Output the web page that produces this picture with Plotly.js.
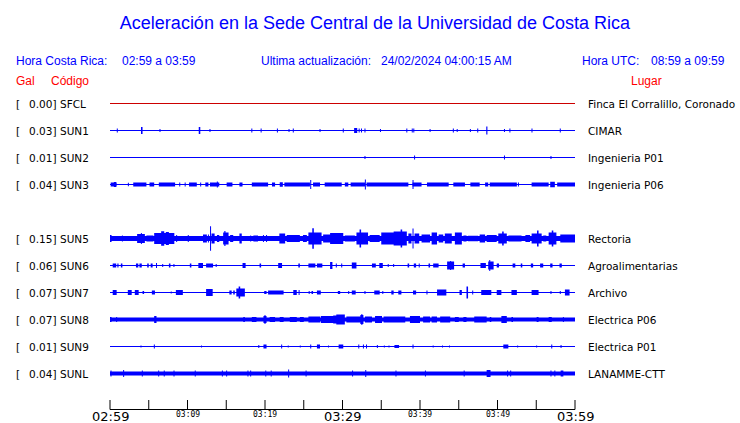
<!DOCTYPE html>
<html><head><meta charset="utf-8">
<script src="https://cdn.plot.ly/plotly-3.0.1.min.js"></script>
<style>html,body{margin:0;padding:0;background:#fff}#chart{width:740px;height:423px}</style>
</head><body><div id="chart"></div>
<script>
// ---- data (times in minutes after 02:59, amplitudes) ----
const codes  = ['SFCL','SUN1','SUN2','SUN3','SUN5','SUN6','SUN7','SUN8','SUN9','SUNL'];
const peakGal = ['0.00','0.03','0.01','0.04','0.15','0.06','0.07','0.07','0.01','0.04'];
const places = ['Finca El Corralillo, Coronado','CIMAR','Ingenieria P01','Ingenieria P06','Rectoria',
                'Agroalimentarias','Archivo','Electrica P06','Electrica P01','LANAMME-CTT'];
const tickTimes  = [0,5,10,15,20,25,30,35,40,45,50,55,60];
const labelTimes = [0,10,20,30,40,50,60];
const labelText  = ['02:59','03:09','03:19','03:29','03:39','03:49','03:59'];

// bursts: [start, end, half-amplitude]
const sfcl = [];
const sun1 = [[0.94,0.94,2],[4.0,4.2,3.5],[6.45,6.45,1.5],[11.45,11.65,3.5],[12.9,12.9,1.5],[18.3,18.3,2],[19.5,19.5,2],
  [21.6,21.6,2],[23.1,23.1,1.5],[23.65,23.65,2],[27.1,27.1,1.5],[30.1,30.1,2],[31.5,31.9,2.5],[32.1,32.2,2],[32.4,32.5,2],
  [32.9,32.9,2],[34.9,34.9,1.5],[38.3,38.3,2],[39.0,39.0,2],[39.2,39.2,2],[41.3,41.3,1.5],[44.3,44.3,2],[44.8,44.8,1.5],
  [46.5,46.5,1.5],[47.45,47.45,2],[48.55,48.7,4],[50.9,50.9,1.5],[51.6,51.6,2],[54.45,54.45,2],[58.1,58.1,2]];
const sun2 = [[32.9,32.9,1.5],[39.3,39.3,2],[50.9,50.9,2],[56.9,56.9,1.5]];
const sun3 = [[0.09,0.86,2],[0.5,0.8,2.6],[2.37,2.37,1.8],[3.0,4.7,2],[5.1,5.7,2],[6.3,8.4,2],[9.0,9.0,2],[9.7,9.7,2],
  [10.2,11.2,2],[11.7,11.7,2],[12.3,12.7,2],[12.9,14.1,2],[13.8,13.9,3],[15.05,15.8,2],[16.7,17.1,2],[18.3,20.4,2],
  [20.9,21.3,2],[21.9,22.3,2.3],[22.5,25.8,2],[25.85,25.95,4.5],[26.2,27.1,2],[27.7,29.9,2],[30.3,30.75,2],
  [31.05,32.9,2.1],[32.9,33.0,5],[33.1,38.5,2],[39.0,40.2,2.1],[39.05,39.15,4.5],[40.9,43.7,2],[44.3,45.8,2],
  [46.5,47.7,2],[48.4,48.8,2],[49.0,52.5,2],[52.7,52.7,2],[54.4,56.6,2],[56.8,57.4,2.8],[57.7,60,2]];
const sun5 = [[0,0.2,3.5],[1.6,1.6,3],[3.5,4.5,4.5],[4.0,4.1,5.5],[4.7,5.6,3],[5.7,8.3,5.5],[6.6,7.0,7.3],[7.2,7.6,6.5],
  [8.6,8.6,3.5],[10.1,10.1,3.5],[12.0,12.5,4],[12.7,12.7,4],[12.95,13.0,12.3],[13.1,13.5,5],[13.8,14.1,3.5],[14.6,15.3,6],
  [14.75,14.9,7.5],[15.5,15.9,3.5],[16.7,17.0,5],[18.15,18.15,3],[18.5,19.1,3],[19.8,19.8,3.5],[20.2,20.2,3.5],[21.85,22.6,5],
  [22.8,24.5,3.5],[24.9,25.4,3.5],[25.6,27.3,6],[26.1,26.3,10.3],[27.5,28.8,4],[28.4,30.1,5.5],[30.3,31.6,3],[31.8,33.3,6],
  [32.2,32.4,9],[33.5,34.8,3.5],[35.0,36.6,6],[36.6,38.3,7],[37.5,37.7,9],[38.5,38.9,5],[39.05,39.15,10],[39.3,39.9,5],
  [40.2,41.3,4],[41.5,42.2,6],[42.4,43.0,4],[43.2,44.1,5],[44.5,45.4,6],[45.6,46.0,3],[46.2,47.5,2.7],[47.7,48.4,4],
  [48.6,49.9,3.5],[50.1,51.2,5],[50.6,50.8,7],[51.4,53.1,3],[53.6,54.2,3.5],[54.4,55.7,5],[55.1,55.3,8],[55.9,56.3,3],
  [56.6,57.6,6],[57.0,57.2,8],[58.1,60,4]];
const sun6 = [[0.35,0.8,2],[0.95,1.1,2],[1.4,1.6,2],[3.35,3.65,2],[3.8,4.1,2],[4.8,5.0,2],[5.25,5.5,2],[6.0,6.0,2.5],
  [6.8,6.8,1.5],[7.6,7.8,2],[8.25,8.25,1.5],[10.3,10.5,2],[11.4,12.0,2.5],[12.4,13.3,2],[13.7,13.7,1.5],[17.1,17.5,2.5],
  [19.3,19.5,2],[21.7,22.2,2.5],[24.3,24.5,2],[25.6,26.5,2],[26.7,27.4,2],[28.4,28.7,3.5],[29.2,29.2,2],[29.9,29.9,2],
  [31.2,31.8,3],[33.8,34.3,2],[34.75,35.2,2.5],[35.9,35.9,1.5],[36.6,36.6,1.5],[38.4,38.6,2],[39.2,39.5,2],[39.9,39.9,2],
  [41.1,41.3,2],[41.7,42.4,2],[43.5,44.4,4],[43.9,44.0,4.5],[45.5,45.8,2],[47.8,48.5,2.5],[48.8,49.5,4],[48.95,49.05,5.5],
  [49.9,50.2,2],[51.95,52.3,2],[53.0,53.2,2],[54.3,54.6,2],[55.5,55.9,2],[56.8,57.1,2],[58.0,58.3,2]];
const sun7 = [[0.35,0.86,2.5],[2.3,2.8,2.5],[3.2,3.7,2.5],[4.2,4.4,1.5],[5.4,5.8,2],[7.9,7.9,1],[8.5,9.4,2.5],[12.4,13.25,3.5],
  [15.4,15.7,2],[15.9,16.1,2],[16.3,17.4,4],[16.6,16.8,6],[19.9,20.2,1.5],[20.4,22.4,2],[23.65,24.1,2.5],[24.4,24.4,2.5],
  [25.7,25.7,1.5],[26.0,26.2,1.5],[26.7,27.2,2],[29.4,29.7,1.5],[30.8,30.8,1.5],[31.2,31.7,2],[32.9,32.9,1.5],[34.1,34.8,2],
  [35.2,35.2,1.5],[36.3,36.6,2],[37.2,37.6,2],[39.1,39.5,2],[40.9,40.9,2],[42.2,43.4,3],[45.1,45.4,2.5],[46.0,46.2,6],
  [46.8,46.8,2],[47.9,49.2,2.5],[49.9,50.5,2.5],[51.8,52.5,2.5],[54.4,55.3,2.5],[56.9,56.9,1.5],[58.1,58.1,1.5],[58.7,59.3,3]];
const sun8 = [[0,0.2,2.5],[0.86,0.86,2.5],[5.7,6.0,3.5],[17.2,17.4,2.5],[18.3,18.9,2.5],[19.8,20.2,3.5],[19.95,20.05,4.5],
  [20.6,21.3,2.5],[21.9,22.4,2.5],[23.2,24.1,2.5],[24.5,25.0,2.5],[25.6,27.1,3],[27.2,28.8,3.5],[28.8,29.7,4],[29.2,30.3,5],
  [30.5,32.3,3],[32.3,32.7,4.5],[32.45,32.55,5.5],[32.9,33.8,3],[34.2,35.1,3.5],[35.3,36.6,3],[36.6,38.1,3],[38.7,40.0,3.5],
  [40.4,41.3,3],[41.5,42.2,3],[42.6,43.9,3],[44.5,45.0,2.5],[45.6,46.0,2.5],[47.0,48.6,3],[49.0,49.2,2.5],[50.5,51.2,3.5],
  [51.8,52.0,2.5],[55.05,55.3,2.5],[56.6,57.0,2.5],[58.5,58.5,2.5]];
const sun9 = [[4.0,4.0,1],[5.72,5.72,2],[11.8,11.8,1],[19.2,19.2,1.5],[19.8,20.2,2],[22.15,22.15,2],[23.0,23.0,1],
  [24.55,24.55,1],[25.9,25.9,2],[26.7,27.1,2],[28.2,28.2,1],[29.5,30.1,2],[32.1,32.1,2],[32.7,32.7,2],[33.1,33.1,2],
  [34.5,34.5,1.5],[35.4,35.4,1],[36.0,36.0,1],[36.7,37.3,1.5],[39.1,39.1,2],[41.7,41.7,1],[42.9,42.9,1],[43.8,43.8,1],
  [50.75,51.4,2],[52.6,52.6,1],[55.05,55.05,1],[57.0,57.0,2],[58.2,58.2,1.5]];
const sunl = [[0.13,0.13,3],[1.76,1.76,3.5],[4.17,4.17,3],[6.28,6.28,3],[7.0,7.0,3],[8.26,8.26,3],[11.0,11.0,3],
  [14.5,14.5,3],[15.05,15.05,3],[17.8,17.8,3],[18.15,18.15,3],[20.1,20.1,3],[20.8,20.8,3],[23.05,23.05,4],
  [25.3,25.3,3],[31.3,31.3,3],[33.0,33.0,3.5],[36.9,36.9,3],[40.7,40.7,3],[45.7,45.7,3],[48.6,49.1,3.5],
  [51.3,51.3,3],[51.7,51.7,3],[56.9,56.9,3],[57.4,57.4,3],[58.15,58.5,3]];
// background noise level (half width) of each record
const noise = [0.5,0.5,0.5,0.5,2.5,0.5,0.5,2,0.5,2];

// ---- drawing ----
const bursts = [sfcl,sun1,sun2,sun3,sun5,sun6,sun7,sun8,sun9,sunl];
const slots  = [0,1,2,3,5,6,7,8,9,10];
const rowGap = 27, minW = 0.13;
const colors = codes.map((c,i)=> i===0 ? '#cc0000' : '#0000ff');
// data area (px): time 0..60 spans 110..575; the plot box is padded a little so edge ticks are not clipped
const L=110, R=575, PAD=3, T=90, B=413, ROW0=103.5, AXIS=409.5, TICKTOP=400;
const L0=L-PAD, R0=R+PAD;
const pxPerMin=(R-L)/60, padMin=PAD/pxPerMin;
const xp = px => (px-L0)/(R0-L0);
const yp = py => (B-py)/(B-T);
const rowPx = i => ROW0 + rowGap*slots[i];
const yv = py => -(py-ROW0);   // pixel row -> y value (1 unit per px)

const traces = [];
bursts.forEach((list,i)=>{
  const b = -rowGap*slots[i];
  const xs=[], ys=[];
  const rect=(t0,t1,a)=>{ xs.push(t0,t1,t1,t0,t0,null); ys.push(b+a,b+a,b-a,b-a,b+a,null); };
  rect(0,60,noise[i]);
  list.forEach(([t0,t1,a])=>{ if(t1-t0<minW){ const m=(t0+t1)/2; t0=m-minW/2; t1=m+minW/2; } rect(t0,t1,a); });
  traces.push({type:'scatter',mode:'lines',x:xs,y:ys,fill:'toself',fillcolor:colors[i],
    line:{width:0,color:colors[i]},hoverinfo:'skip',showlegend:false,connectgaps:false});
});

const shapes = [{type:'line',xref:'x',yref:'y',x0:0,x1:60,y0:yv(AXIS),y1:yv(AXIS),line:{color:'#000',width:1}}];
tickTimes.forEach(t=>shapes.push({type:'line',xref:'x',yref:'y',x0:t,x1:t,y0:yv(TICKTOP),y1:yv(AXIS),line:{color:'#000',width:1}}));

const ann = [];
const A = (text,px,py,anchor,font)=>ann.push({text,x:xp(px),y:yp(py),xref:'paper',yref:'paper',xanchor:anchor,
  yanchor:'middle',showarrow:false,borderpad:0,font});
const blue = {family:'Liberation Sans, Arial, sans-serif',size:12,color:'#0000ff'};
const red  = {family:'Liberation Sans, Arial, sans-serif',size:12,color:'#ff0000'};
const lab  = {family:'DejaVu Sans, sans-serif',size:10.5,color:'#000'};
A('Hora Costa Rica:',15,61,'left',blue);
A('02:59 a 03:59',121,61,'left',blue);
A('Ultima actualización:',260,61,'left',blue);
A('24/02/2024 04:00:15 AM',380,61,'left',blue);
A('Hora UTC:',581,61,'left',blue);
A('08:59 a 09:59',650,61,'left',blue);
A('Gal',15,81,'left',red);
A('Código',50,81,'left',red);
A('Lugar',630,81,'left',red);
codes.forEach((c,i)=>{
  const y = rowPx(i);
  A('[',15,y,'left',lab);
  A(peakGal[i]+']',57,y,'right',lab);
  A(c,59,y,'left',lab);
  A(places[i],587,y,'left',lab);
});
labelTimes.forEach((t,i)=>{
  const big = (i%3===0);
  A(labelText[i], L+pxPerMin*t, big?416:414, 'center',
    big ? {family:'DejaVu Sans, sans-serif',size:13,color:'#000'} : {family:'DejaVu Sans Mono, monospace',size:8,color:'#000'});
});

const layout = {
  width:740,height:423,margin:{l:L0,r:740-R0,t:T,b:423-B},
  paper_bgcolor:'#fff',plot_bgcolor:'#fff',showlegend:false,
  title:{text:'Aceleración en la Sede Central de la Universidad de Costa Rica',x:375/740,xanchor:'center',
    y:1-23/423,yanchor:'middle',font:{family:'Liberation Sans, Arial, sans-serif',size:18,color:'#0000ff'}},
  xaxis:{range:[-padMin,60+padMin],visible:false,showgrid:false,zeroline:false,fixedrange:true},
  yaxis:{range:[yv(B),yv(T)],visible:false,showgrid:false,zeroline:false,fixedrange:true},
  shapes:shapes,
  annotations:ann
};
Plotly.newPlot('chart',traces,layout,{staticPlot:true,displayModeBar:false});
</script></body></html>
